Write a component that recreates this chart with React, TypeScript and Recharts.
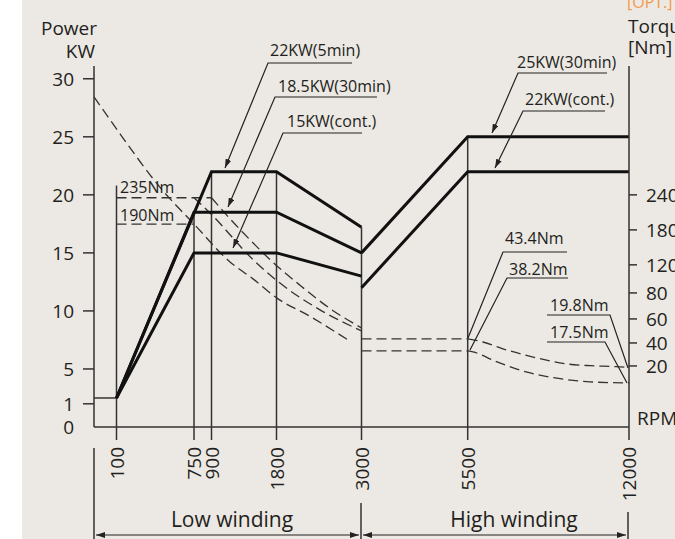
import { LineChart, Line, XAxis, YAxis, ReferenceLine } from "recharts";

// ---- axis ticks ----
const rpmTicks = [100, 750, 900, 1800, 3000, 5500, 12000];
const powerTicks = [0, 2, 5, 10, 15, 20, 25, 30];
const powerTickLabels = ["0", "1", "5", "10", "15", "20", "25", "30"];
const torqueTicks = [20, 40, 60, 80, 120, 180, 240];

// ---- power (kW) ----
const baseRpm = [0, 100];
const baseKw = [2.5, 2.5];
const p22Rpm = [100, 900, 1800, 3000];
const p22Kw = [2.5, 22, 22, 17.2];
const p185Rpm = [100, 750, 1800, 3000];
const p185Kw = [2.5, 18.5, 18.5, 15];
const p15Rpm = [100, 750, 1800, 3000];
const p15Kw = [2.5, 15, 15, 13];
const p25Rpm = [3000, 5500, 12000];
const p25Kw = [15, 25, 25];
const p22cRpm = [3000, 5500, 12000];
const p22cKw = [12, 22, 22];

// ---- torque (Nm) ----
const t235Rpm = [100, 900];
const t235Nm = [235, 235];
const t190Rpm = [100, 750];
const t190Nm = [190, 190];
const t22Rpm = [900, 1156, 1433, 1710, 2132, 2555, 3000];
const t22Nm = [235, 199, 163, 129, 91, 68, 52.5];
const t185Rpm = [750, 887, 1475, 1849, 2414, 3000];
const t185Nm = [235, 209, 129, 94, 67, 50];
const t15Rpm = [0, 100, 481, 750, 1156, 1475, 1807, 2273, 2809];
const t15Nm = [408, 353, 249, 190, 125, 100, 76, 62, 42.5];
const t434Rpm = [3000, 5500];
const t434Nm = [43.4, 43.4];
const t382Rpm = [3000, 5500];
const t382Nm = [38.2, 38.2];
const t25Rpm = [5500, 6117, 7084, 8293, 9502, 10429, 11460, 12000];
const t25Nm = [43.4, 40.8, 38.4, 29.7, 22.4, 20.3, 19.9, 19.8];
const t22cRpm = [5500, 5714, 6681, 7890, 9099, 10308, 11355, 12000];
const t22cNm = [38.2, 37, 24.9, 19.1, 18.2, 17.7, 17.55, 17.5];

// vertical guides at the key speeds, top in kW
const guideRpm = [100, 750, 900, 1800, 3000, 5500];
const guideTopKw = [20.8, 18.5, 22, 22, 17.2, 25];

// the drawing's broken rpm axis (rpm -> axis units)
const RPM_BREAKS = [0, 100, 750, 900, 1800, 3000, 5500, 12000];
const RPM_UNITS = [0, 22.5, 100, 117.5, 182.5, 267.5, 373.7, 535];
// the drawing's non-linear torque axis (Nm -> power axis units)
const NM_BREAKS = [17.5, 20, 38.2, 40, 60, 80, 120, 180, 240, 420];
const NM_UNITS = [3.79, 5.26, 6.55, 7.24, 9.31, 11.55, 13.97, 16.98, 20.0, 29.05];

const W = 675;
const H = 539;
const INK = "#231f20";
const FONT = "'Open Sans', sans-serif";

function interp(v: number, xs: number[], ys: number[]) {
  let i = 1;
  while (i < xs.length - 1 && v > xs[i]) i++;
  const t = (v - xs[i - 1]) / (xs[i] - xs[i - 1]);
  return ys[i - 1] + t * (ys[i] - ys[i - 1]);
}
const rpmX = (r: number) => interp(r, RPM_BREAKS, RPM_UNITS);
const nmY = (t: number) => interp(t, NM_BREAKS, NM_UNITS);

const series = (rpm: number[], vals: number[], f: (v: number) => number = (v) => v) =>
  rpm.map((r, i) => ({ x: rpmX(r), y: f(vals[i]) }));

const powerSeries = [
  series(p22Rpm, p22Kw),
  series(p185Rpm, p185Kw),
  series(p15Rpm, p15Kw),
  series(p25Rpm, p25Kw),
  series(p22cRpm, p22cKw),
];
const torqueFlat = [
  series(t235Rpm, t235Nm, nmY),
  series(t190Rpm, t190Nm, nmY),
  series(t434Rpm, t434Nm, nmY),
  series(t382Rpm, t382Nm, nmY),
];
const torqueCurves = [
  series(t22Rpm, t22Nm, nmY),
  series(t185Rpm, t185Nm, nmY),
  series(t15Rpm, t15Nm, nmY),
  series(t25Rpm, t25Nm, nmY),
  series(t22cRpm, t22cNm, nmY),
];

function PowerTick({ x, y, payload }: any) {
  const i = powerTicks.indexOf(payload.value);
  return (
    <g>
      {payload.value > 0 && <line x1={x + 9} x2={x + 20} y1={y} y2={y} stroke="#333" strokeWidth={1.5} />}
      <text x={x} y={y} dy="0.36em" textAnchor="end" fontSize={19} fill={INK} fontFamily={FONT}>
        {powerTickLabels[i]}
      </text>
    </g>
  );
}

function TorqueTick({ x, y, index }: any) {
  return (
    <text x={x} y={y} dy="0.36em" textAnchor="start" fontSize={19} fill={INK} fontFamily={FONT}>
      {torqueTicks[index]}
    </text>
  );
}

function RpmTick({ x, y, index }: any) {
  return (
    <text
      x={x}
      y={y}
      transform={`rotate(-90 ${x} ${y})`}
      textAnchor="end"
      dominantBaseline="central"
      fontSize={19}
      fill={INK}
      fontFamily={FONT}
    >
      {rpmTicks[index]}
    </text>
  );
}

function Leader({ pts, arrow }: { pts: number[][]; arrow?: boolean }) {
  return (
    <polyline
      points={pts.map((p) => p.join(",")).join(" ")}
      fill="none"
      stroke="#222"
      strokeWidth={1.2}
      markerEnd={arrow ? "url(#arr)" : undefined}
    />
  );
}

function Overlay() {
  const t = { fill: INK, fontFamily: FONT };
  return (
    <svg width={W} height={H} style={{ position: "absolute", left: 0, top: 0, pointerEvents: "none" }}>
      <defs>
        <marker id="arr" markerWidth={9} markerHeight={6} refX={9} refY={3} orient="auto" markerUnits="userSpaceOnUse">
          <path d="M0,0 L9,3 L0,6 z" fill="#222" />
        </marker>
        <marker id="arr2" markerWidth={9} markerHeight={6} refX={9} refY={3} orient="auto-start-reverse" markerUnits="userSpaceOnUse">
          <path d="M0,0 L9,3 L0,6 z" fill="#222" />
        </marker>
      </defs>

      <text x={97} y={35} textAnchor="end" fontSize={19} {...t}>Power</text>
      <text x={95} y={58} textAnchor="end" fontSize={19} {...t}>KW</text>
      <text x={627} y={8} fontSize={16} fill="#f39a4a" fontFamily={FONT}>[OPT.]</text>
      <text x={628} y={33} fontSize={19} {...t}>Torque</text>
      <text x={628} y={54} fontSize={19} {...t}>[Nm]</text>
      <text x={637} y={425} fontSize={19} {...t}>RPM</text>

      {/* power labels */}
      <text x={270} y={56} fontSize={16} {...t}>22KW(5min)</text>
      <Leader pts={[[352, 63], [268, 63], [225, 168]]} arrow />
      <text x={278} y={92} fontSize={16} {...t}>18.5KW(30min)</text>
      <Leader pts={[[377, 97], [275, 97], [228, 207]]} arrow />
      <text x={287} y={127} fontSize={16} {...t}>15KW(cont.)</text>
      <Leader pts={[[362, 133], [283, 133], [233, 248]]} arrow />
      <text x={517} y={68} fontSize={16} {...t}>25KW(30min)</text>
      <Leader pts={[[607, 73], [518, 73], [492, 133]]} arrow />
      <text x={525} y={105} fontSize={16} {...t}>22KW(cont.)</text>
      <Leader pts={[[605, 111], [523, 111], [495, 168]]} arrow />

      {/* torque labels */}
      <text x={120} y={193} fontSize={16} {...t}>235Nm</text>
      <text x={120} y={221} fontSize={16} {...t}>190Nm</text>
      <text x={505} y={244} fontSize={16} {...t}>43.4Nm</text>
      <Leader pts={[[567, 252], [503, 252], [468, 338]]} />
      <text x={509} y={275} fontSize={16} {...t}>38.2Nm</text>
      <Leader pts={[[568, 278], [507, 278], [470, 350]]} />
      <text x={550} y={311} fontSize={16} {...t}>19.8Nm</text>
      <Leader pts={[[547, 315], [610, 315], [628, 368]]} />
      <text x={550} y={338} fontSize={16} {...t}>17.5Nm</text>
      <Leader pts={[[547, 342], [605, 342], [627, 383]]} />

      {/* winding ranges */}
      <line x1={94} x2={94} y1={448} y2={539} stroke="#333" strokeWidth={1.5} />
      <line x1={361} x2={361} y1={503} y2={539} stroke="#333" strokeWidth={1.5} />
      <line x1={628} x2={628} y1={512} y2={539} stroke="#333" strokeWidth={1.5} />
      <line x1={96} x2={359} y1={535} y2={535} stroke="#222" strokeWidth={1.2} markerStart="url(#arr2)" markerEnd="url(#arr2)" />
      <line x1={363} x2={626} y1={535} y2={535} stroke="#222" strokeWidth={1.2} markerStart="url(#arr2)" markerEnd="url(#arr2)" />
      <text x={232} y={527} textAnchor="middle" fontSize={21} {...t}>Low winding</text>
      <text x={514} y={527} textAnchor="middle" fontSize={21} {...t}>High winding</text>
    </svg>
  );
}

export default function App() {
  const axisLine = { stroke: "#333", strokeWidth: 1.5 };
  return (
    <div style={{ position: "absolute", left: 0, top: 0, width: W, height: H, background: "#fff", overflow: "hidden" }}>
      <div style={{ position: "absolute", left: 22, top: 0, width: W - 22, height: H, background: "#ece8e3" }} />
      <div style={{ position: "absolute", left: 0, top: 0 }}>
        <LineChart width={W} height={H} margin={{ top: 66, right: 0, bottom: 0, left: 0 }}>
          <XAxis
            type="number"
            dataKey="x"
            domain={[0, 535]}
            ticks={rpmTicks.map(rpmX)}
            interval={0}
            height={112}
            tickSize={13}
            tickMargin={7}
            axisLine={axisLine}
            tickLine={axisLine}
            tick={<RpmTick />}
            allowDataOverflow
          />
          <YAxis
            yAxisId="power"
            type="number"
            domain={[0, 31.1]}
            ticks={powerTicks}
            interval={0}
            width={94}
            tickSize={11}
            tickMargin={9}
            axisLine={axisLine}
            tickLine={false}
            tick={<PowerTick />}
            allowDataOverflow
          />
          <YAxis
            yAxisId="torque"
            orientation="right"
            type="number"
            domain={[0, 31.1]}
            ticks={torqueTicks.map(nmY)}
            interval={0}
            width={46}
            tickSize={8}
            tickMargin={9}
            axisLine={axisLine}
            tickLine={axisLine}
            tick={<TorqueTick />}
            allowDataOverflow
          />

          {guideRpm.map((r, i) => (
            <ReferenceLine
              key={r}
              yAxisId="power"
              segment={[{ x: rpmX(r), y: guideTopKw[i] }, { x: rpmX(r), y: 0 }]}
              stroke="#333"
              strokeWidth={1.5}
            />
          ))}

          <Line
            data={series(baseRpm, baseKw)}
            dataKey="y"
            yAxisId="power"
            type="linear"
            stroke="#333"
            strokeWidth={1.5}
            dot={false}
            isAnimationActive={false}
          />
          {torqueFlat.map((d, i) => (
            <Line
              key={`tf${i}`}
              data={d}
              dataKey="y"
              yAxisId="torque"
              type="linear"
              stroke="#333"
              strokeWidth={1.3}
              strokeDasharray="10 5"
              dot={false}
              isAnimationActive={false}
            />
          ))}
          {torqueCurves.map((d, i) => (
            <Line
              key={`tc${i}`}
              data={d}
              dataKey="y"
              yAxisId="torque"
              type="monotone"
              stroke="#333"
              strokeWidth={1.3}
              strokeDasharray="10 5"
              dot={false}
              isAnimationActive={false}
            />
          ))}
          {powerSeries.map((d, i) => (
            <Line
              key={`p${i}`}
              data={d}
              dataKey="y"
              yAxisId="power"
              type="linear"
              stroke="#111"
              strokeWidth={3}
              dot={false}
              isAnimationActive={false}
            />
          ))}
        </LineChart>
      </div>
      <Overlay />
    </div>
  );
}
